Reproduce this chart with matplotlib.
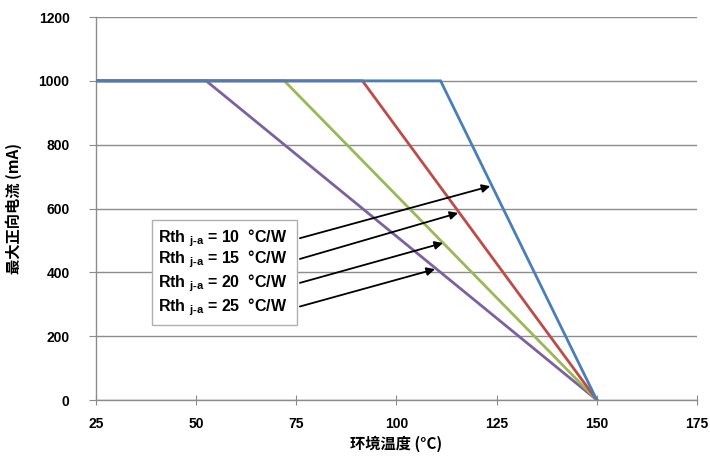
import matplotlib
matplotlib.use('Agg')
import matplotlib.pyplot as plt
from matplotlib.patches import Rectangle

plt.rcParams['font.family'] = ['Liberation Sans', 'Noto Sans CJK SC', 'DejaVu Sans']
plt.rcParams['font.weight'] = 'bold'
plt.rcParams['mathtext.fontset'] = 'custom'
plt.rcParams['mathtext.rm'] = 'Liberation Sans:bold'
plt.rcParams['mathtext.bf'] = 'Liberation Sans:bold'

# derating curves: (x, y) break points per thermal resistance
rth_values = [10, 15, 20, 25]
knee_temps = [111, 91.5, 72, 52.5]
t_start = 25
t_max = 150
i_max = 1000
line_colors = ['#4A7EBB', '#BE4B48', '#98B954', '#7D60A0']

# arrows: text start point -> point on curve
arrow_start = [(75.9, 507), (75.9, 442), (75.9, 367), (75.9, 293)]
arrow_end = [(123.4, 670), (115.4, 586), (111.6, 492), (109.6, 410)]

fig = plt.figure(figsize=(7.1, 4.57), dpi=100)
ax = fig.add_axes([0.1352, 0.1247, 0.8465, 0.8381])

# draw longest-knee last so blue is on top, like the original
for rth, knee, c in reversed(list(zip(rth_values, knee_temps, line_colors))):
    ax.plot([t_start, knee, t_max], [i_max, i_max, 0], color=c, lw=2.0,
            solid_joinstyle='miter', zorder=3)

ax.set_xlim(25, 175)
ax.set_ylim(0, 1200)
ax.set_xticks([25, 50, 75, 100, 125, 150, 175])
ax.set_yticks([0, 200, 400, 600, 800, 1000, 1200])
ax.yaxis.grid(True, color='#8c8c8c', lw=1.0)
ax.set_axisbelow(True)
for s in ['top', 'right']:
    ax.spines[s].set_visible(False)
for s in ['left', 'bottom']:
    ax.spines[s].set_color('#8c8c8c')
    ax.spines[s].set_linewidth(1.0)
ax.tick_params(axis='x', direction='inout', length=7, color='#8c8c8c', labelsize=10, pad=9)
ax.tick_params(axis='y', direction='out', length=5, color='#8c8c8c', labelsize=10, pad=14)

cjk = ['Noto Sans CJK SC', 'Liberation Sans']
ax.set_xlabel('环境温度 (°C)', family=cjk, fontsize=11, fontweight='bold', labelpad=3)
ax.set_ylabel('最大正向电流 (mA)', family=cjk, fontsize=11, fontweight='bold', labelpad=12)

# label box
box = Rectangle((39.0, 235), 36.2, 329, facecolor='white', edgecolor='#b0b0b0',
                lw=1.0, zorder=4)
ax.add_patch(box)
for i, rth in enumerate(rth_values):
    ax.text(40.5, arrow_start[i][1] - 14, r'Rth $_{\text{j-a}}$ = %d  °C/W' % rth,
            fontsize=11.5, fontweight='bold', va='baseline', ha='left', zorder=5)
    ax.annotate('', xy=arrow_end[i], xytext=arrow_start[i],
                arrowprops=dict(arrowstyle='-|>', color='black', lw=1.3,
                                mutation_scale=12, shrinkA=0, shrinkB=0),
                zorder=6)

fig.savefig('out.png', dpi=100)
